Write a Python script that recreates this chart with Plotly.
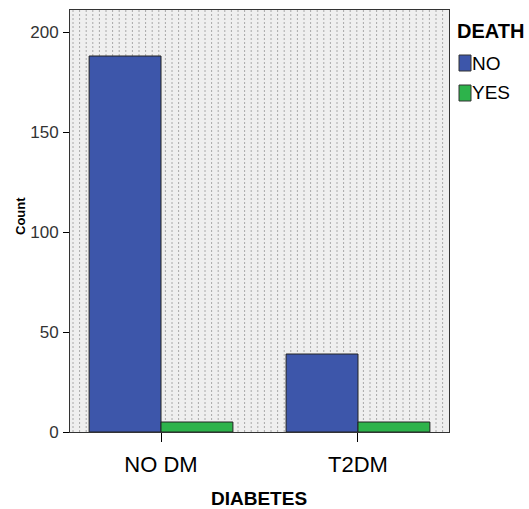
import plotly.graph_objects as go

categories = ["NO DM", "T2DM"]
death_no = [188, 39]
death_yes = [5, 5]
series_names = ["NO", "YES"]
y_ticks = [0, 50, 100, 150, 200]

FONT = "Liberation Sans, Arial, sans-serif"
NARROW = "Liberation Sans Narrow, Liberation Sans, Arial, sans-serif"
BLUE = "#3d56aa"
GREEN = "#2db34b"

fig = go.Figure()
fig.add_trace(go.Bar(x=categories, y=death_no, name=series_names[0],
                     marker=dict(color=BLUE, line=dict(color="#222222", width=1))))
fig.add_trace(go.Bar(x=categories, y=death_yes, name=series_names[1],
                     marker=dict(color=GREEN, line=dict(color="#222222", width=1))))

# Plot area in pixels: x 70..449, y 10..432
L, R, T, B = 70, 449, 10, 432
W, H = R - L, B - T

def px(x):
    return (x - L) / W

def py(y):
    return (B - y) / H

shapes = []
# dotted background texture
x = L + 3.0
while x < R - 1:
    shapes.append(dict(type="line", xref="paper", yref="paper",
                       x0=px(x), x1=px(x), y0=0, y1=1,
                       line=dict(color="#a8a8a8", width=1, dash="2px,2px"),
                       layer="below"))
    x += 6.6

# manual legend squares
for (y0, y1, c) in [(55, 71, BLUE), (85, 101, GREEN)]:
    shapes.append(dict(type="rect", xref="paper", yref="paper",
                       x0=px(459), x1=px(471), y0=py(y1), y1=py(y0),
                       fillcolor=c, line=dict(color="#333333", width=1)))

annotations = [
    dict(text="<b>DEATH</b>", xref="paper", yref="paper", x=px(455), y=py(31),
         xanchor="left", yanchor="middle", showarrow=False,
         font=dict(family=FONT, size=20, color="black")),
    dict(text=series_names[0], xref="paper", yref="paper", x=px(470), y=py(63),
         xanchor="left", yanchor="middle", showarrow=False,
         font=dict(family=FONT, size=19, color="black")),
    dict(text=series_names[1], xref="paper", yref="paper", x=px(470), y=py(93),
         xanchor="left", yanchor="middle", showarrow=False,
         font=dict(family=FONT, size=19, color="black")),
    # axis titles
    dict(text="<b>Count</b>", xref="paper", yref="paper", x=px(20), y=py(216),
         xanchor="center", yanchor="middle", textangle=-90, showarrow=False,
         font=dict(family=FONT, size=13, color="black")),
    dict(text="<b>DIABETES</b>", xref="paper", yref="paper", x=px(259), y=py(498),
         xanchor="center", yanchor="middle", showarrow=False,
         font=dict(family=FONT, size=19, color="black")),
]

fig.update_layout(
    width=529, height=509,
    margin=dict(l=L, r=529 - R, t=T, b=509 - B, autoexpand=False),
    paper_bgcolor="white",
    plot_bgcolor="#efefef",
    barmode="group",
    bargap=0.27,
    bargroupgap=0,
    showlegend=False,
    shapes=shapes,
    annotations=annotations,
    font=dict(family=FONT, color="black"),
)
fig.update_xaxes(
    range=[-0.462, 1.462],
    automargin=False,
    showgrid=False, zeroline=False,
    showline=True, linecolor="#333333", linewidth=1, mirror=True,
    ticks="outside", ticklen=9, tickcolor="black",
    tickfont=dict(family=FONT, size=22, color="black"),
    ticklabelstandoff=4,
)
fig.update_yaxes(
    range=[0, 211],
    automargin=False,
    tickvals=y_ticks,
    showgrid=False, zeroline=False,
    showline=True, linecolor="#333333", linewidth=1, mirror=True,
    ticks="outside", ticklen=6, tickcolor="black",
    tickfont=dict(family=NARROW, size=17, color="#333333"),
    ticklabelstandoff=1,
)

fig.write_html("out.html", config={"displayModeBar": False},
               post_script="document.body.style.margin='0';document.body.style.overflow='hidden';")
